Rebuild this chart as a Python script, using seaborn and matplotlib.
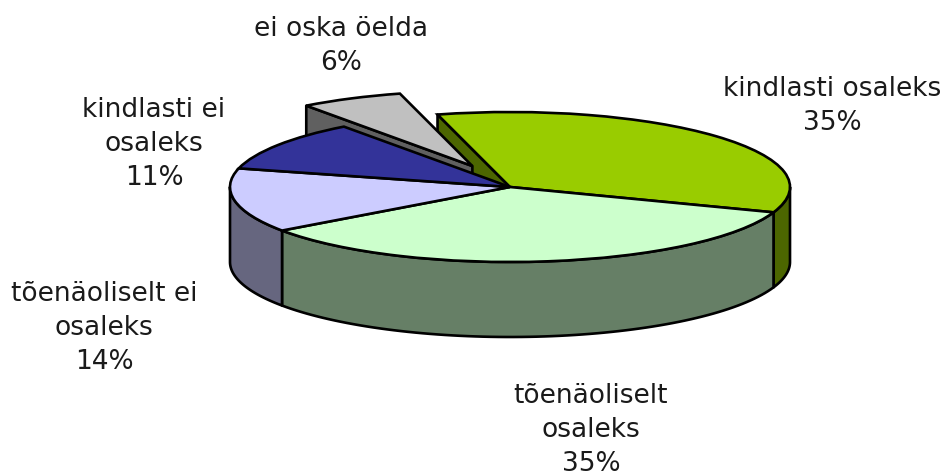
import numpy as np
import matplotlib
matplotlib.use("Agg")
import matplotlib.pyplot as plt
import seaborn as sns

# labels and shares as printed on the chart
labels = ["kindlasti osaleks", "tõenäoliselt\nosaleks", "tõenäoliselt ei\nosaleks",
          "kindlasti ei\nosaleks", "ei oska öelda"]
shares = [35, 35, 14, 11, 6]
explode = [0, 0, 0, 0, 0.31]
top_colors = ["#99CC00", "#CCFFCC", "#CCCCFF", "#333399", "#C0C0C0"]
side_colors = ["#4C6600", "#667F66", "#66667F", "#1A1A4C", "#606060"]

# label centres in pixels of the 943x476 picture
label_pos = [(832, 106), (591, 430), (104, 328), (154, 144), (341, 46)]

W, H = 943, 476
CX, CY, RX, RY = 510, 187, 280, 75
LW = 1.9

sns.set_theme(style="white")
plt.rcParams["font.family"] = ["DejaVu Sans"]

fig = plt.figure(figsize=(W / 100, H / 100), dpi=100)
ax = fig.add_axes([0, 0, 1, 1])

wedges, _ = ax.pie(shares, explode=explode, colors=sns.color_palette(top_colors),
                   startangle=105.0, counterclock=False,
                   wedgeprops={"edgecolor": "black", "linewidth": LW})

# squash the round pie into the tilted ellipse, one y unit is RY pixels
ax.set_aspect("auto")
ax.set_xlim(-CX / RX, (W - CX) / RX)
ax.set_ylim((CY - H) / RY, CY / RY)
ax.axis("off")

depth = 1.0


def side_face(xs, ys, color, z):
    px = list(xs) + list(xs)[::-1]
    py = list(ys) + [y - depth for y in list(ys)[::-1]]
    ax.fill(px, py, facecolor=color, edgecolor="black", linewidth=LW,
            joinstyle="round", zorder=z)


for i, w in enumerate(wedges):
    cx, cy = w.center
    exploded = explode[i] > 0
    w.set_zorder(3 if exploded else 5)

    # outer rim, only the part turned to the viewer
    a1 = (w.theta1 + 360) % 360
    a2 = a1 + (w.theta2 - w.theta1)
    for lo, hi in [(180, 360), (540, 720)]:
        s, e = max(a1, lo), min(a2, hi)
        if e > s:
            t = np.radians(np.linspace(s, e, 80))
            side_face(cx + np.cos(t), cy + np.sin(t), side_colors[i], 4)

    # cut face turned to the viewer
    if i == 0 or exploded:
        ang = np.radians(w.theta2)
        z = 1 if i == 0 else 2
        side_face([cx, cx + np.cos(ang)], [cy, cy + np.sin(ang)], side_colors[i], z)

for name, share, (x, y) in zip(labels, shares, label_pos):
    fig.text(x / W, 1 - y / H, "{}\n{}%".format(name, share), ha="center", va="center",
             fontsize=19, linespacing=1.42, color="#1a1a1a")

fig.savefig("out.png", dpi=100, facecolor="white")
